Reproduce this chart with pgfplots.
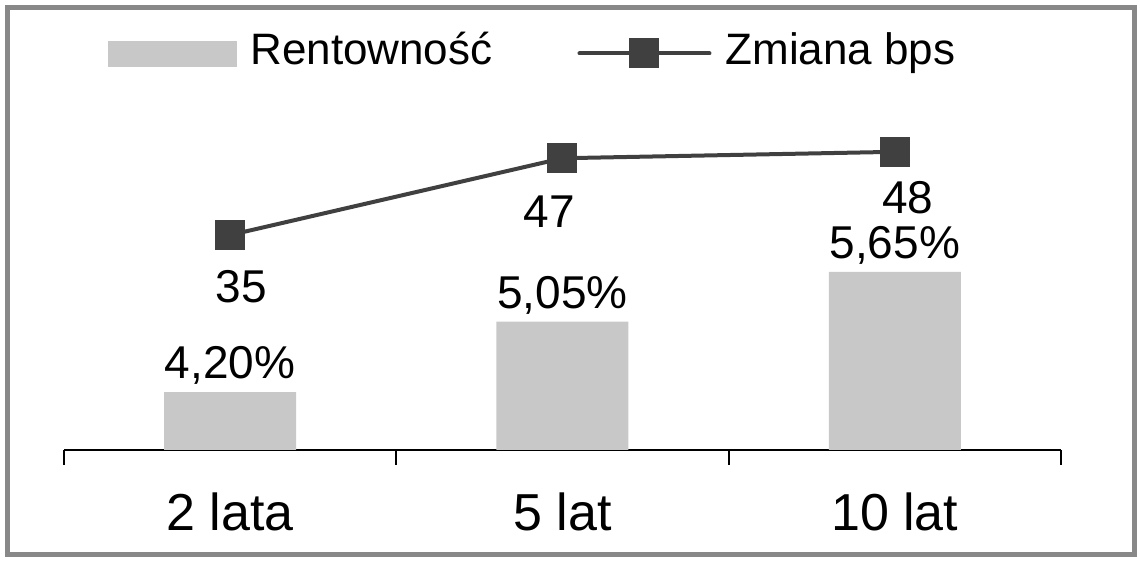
\documentclass[border=0pt]{standalone}
\usepackage{pgfplots}
\pgfplotsset{compat=1.18}
\usepackage{pgfplotstable}
\usepackage{fontspec}
\setmainfont{Liberation Sans}
\definecolor{barc}{HTML}{C8C8C8}
\definecolor{linec}{HTML}{404040}
\definecolor{framec}{HTML}{888888}

\pgfplotstableread{
x y
0 4.20
1 5.05
2 5.65
}\bardata
\pgfplotstableread{
x y
0 35
1 47
2 48
}\linedata

\begin{document}
\begin{tikzpicture}
\useasboundingbox (0,0) rectangle (1140bp,561bp);
\draw[framec, line width=5bp] (7.5bp,6.5bp) rectangle (1134.5bp,553.5bp);
\pgfplotsset{base/.style={scale only axis, width=997bp, height=350bp, at={(64bp,111bp)}, anchor=south west, xmin=-0.5, xmax=2.5, /pgf/number format/assume math mode=true},
  lbl/.style 2 args={draw=none, mark=none, forget plot, nodes near coords,
    every node near coord/.append style={font=\fontsize{46bp}{52bp}\selectfont, anchor=center, inner sep=0pt, xshift=#1, yshift=#2, text=black}}}
\begin{axis}[base, ymin=3.5, ymax=7.727,
  axis x line*=bottom, axis y line=none,
  x axis line style={-, line width=2bp, black},
  xtick={0,1,2}, xticklabels={2 lata,5 lat,10 lat},
  major tick length=0pt,
  xtick align=outside,
  xticklabel style={font=\fontsize{52bp}{60bp}\selectfont, anchor=base, yshift=-80bp, inner sep=0pt},
  extra x ticks={-0.5,0.5,1.5,2.5}, extra x tick labels={},
  extra x tick style={major tick length=15bp, tick style={line width=2bp, black}},
  ybar, bar width=132bp,
  nodes near coords={\pgfmathprintnumber[fixed,fixed zerofill,precision=2,use comma]{\pgfplotspointmeta}\%},
  every node near coord/.append style={font=\fontsize{46bp}{52bp}\selectfont, anchor=base, inner sep=0pt, yshift=13.5bp, text=black},
]
\addplot[fill=barc, draw=none] table[x=x,y=y]{\bardata};
\end{axis}
\begin{axis}[base, ymin=1.41, ymax=56.1, hide axis,
  legend columns=-1,
  legend style={draw=none, fill=none, inner sep=0pt, outer sep=0pt, at={(0.0441,1.1329)}, anchor=west,
    font=\fontsize{44bp}{50bp}\selectfont,
    nodes={inner sep=0pt, text height=23bp, text depth=0pt},
    /tikz/every odd column/.append style={column sep=14bp},
    /tikz/every even column/.append style={column sep=85bp}},
]
\addlegendimage{legend image code/.code={\fill[barc] (0bp,-12.5bp) rectangle (128bp,12.5bp);}}
\addlegendentry{Rentowność}
\addplot[linec, line width=4bp, line cap=round, mark=square*, mark size=13bp, mark options={draw=none, fill=linec},
  legend image code/.code={\draw[mark repeat=2, mark phase=2] plot coordinates {(0bp,0bp) (65bp,0bp) (130bp,0bp)};},
] table[x=x,y=y]{\linedata};
\addlegendentry{Zmiana bps}
\addplot[lbl={11bp}{-52bp}] coordinates {(0,35)};
\addplot[lbl={-13bp}{-53bp}] coordinates {(1,47)};
\addplot[lbl={13bp}{-46bp}] coordinates {(2,48)};
\end{axis}
\end{tikzpicture}
\end{document}
